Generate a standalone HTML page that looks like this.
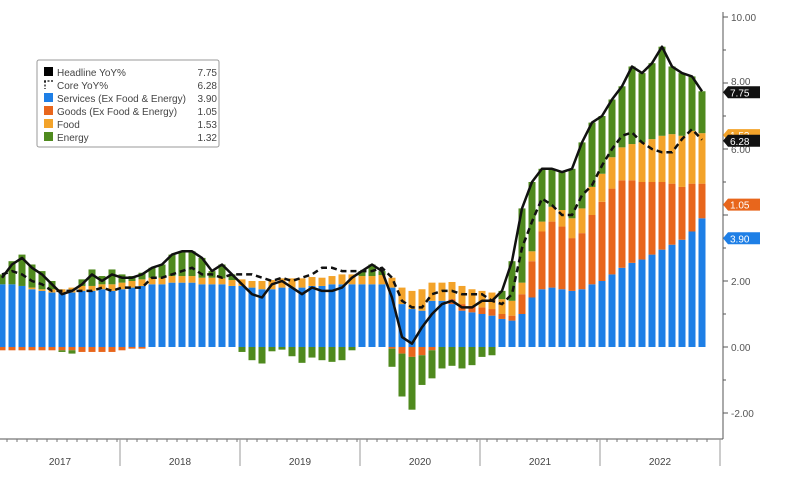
<!DOCTYPE html>
<html><head><meta charset="utf-8"><style>
body{margin:0;background:#fff;}
svg{display:block;font-family:"Liberation Sans",sans-serif;}
</style></head><body>
<svg id="chart" width="789" height="488" viewBox="0 0 789 488" xmlns="http://www.w3.org/2000/svg">
<g id="bars"></g>
<g id="lines"></g>
<g id="axes"></g>
<g id="legend">
<rect x="37" y="60" width="182" height="87" fill="#fff" stroke="#999" stroke-width="1" rx="2"/>
</g>
</svg>
<script>
const months = 71; // Dec 2016 .. Oct 2022
const years = ["2017","2018","2019","2020","2021","2022"];
const headline = [2.1,
2.5,2.7,2.4,2.2,1.9,1.6,1.7,1.9,2.2,2.0,2.2,2.1,
2.1,2.2,2.4,2.5,2.8,2.9,2.9,2.7,2.3,2.5,2.2,1.9,
1.6,1.5,1.9,2.0,1.8,1.6,1.8,1.7,1.7,1.8,2.1,2.3,
2.5,2.3,1.5,0.3,0.1,0.6,1.0,1.3,1.4,1.2,1.2,1.4,
1.4,1.7,2.6,4.2,5.0,5.4,5.4,5.3,5.4,6.2,6.8,7.0,
7.5,7.9,8.5,8.3,8.6,9.1,8.5,8.3,8.2,7.75];
const core = [2.2,
2.3,2.2,2.0,1.9,1.7,1.7,1.7,1.7,1.7,1.8,1.7,1.8,
1.8,1.8,2.1,2.1,2.2,2.3,2.4,2.2,2.2,2.1,2.2,2.2,
2.2,2.1,2.0,2.1,2.0,2.1,2.2,2.4,2.4,2.3,2.3,2.3,
2.3,2.4,2.1,1.4,1.2,1.2,1.6,1.7,1.7,1.6,1.6,1.6,
1.4,1.3,1.6,3.0,3.8,4.5,4.3,4.0,4.0,4.6,4.9,5.5,
6.0,6.4,6.5,6.2,6.0,5.9,5.9,6.3,6.6,6.28];
const services = [1.9,
1.9,1.85,1.75,1.7,1.65,1.65,1.65,1.7,1.7,1.75,1.7,1.75,
1.8,1.85,1.9,1.9,1.95,1.95,1.95,1.9,1.9,1.9,1.85,1.85,
1.8,1.75,1.75,1.8,1.8,1.8,1.85,1.85,1.9,1.9,1.9,1.9,
1.9,1.9,1.8,1.3,1.15,1.1,1.4,1.4,1.3,1.1,1.05,1.0,
0.95,0.85,0.8,1.0,1.5,1.75,1.8,1.75,1.7,1.75,1.9,2.0,
2.2,2.4,2.55,2.65,2.8,2.95,3.1,3.25,3.5,3.9];
const goods = [-0.1,
-0.1,-0.1,-0.1,-0.1,-0.1,-0.1,-0.1,-0.15,-0.15,-0.15,-0.15,-0.1,
-0.05,-0.05,0,0,0,0,0,0,0,0,0,0,
0,0,0,0,0,0,0,0,0,0,0,0,
0,0,-0.05,-0.2,-0.3,-0.25,-0.1,0.0,0.15,0.2,0.2,0.2,
0.2,0.15,0.15,0.6,1.1,1.75,2.0,1.9,1.6,1.7,2.1,2.4,
2.6,2.65,2.5,2.35,2.2,2.05,1.85,1.6,1.45,1.05];
const food = [0.0,
0.0,0.0,0.05,0.05,0.1,0.1,0.15,0.15,0.15,0.15,0.2,0.2,
0.2,0.2,0.2,0.2,0.2,0.2,0.2,0.2,0.2,0.18,0.18,0.2,
0.2,0.25,0.28,0.28,0.28,0.28,0.27,0.25,0.25,0.3,0.3,0.25,
0.25,0.28,0.3,0.5,0.55,0.65,0.55,0.55,0.52,0.55,0.5,0.5,
0.5,0.45,0.45,0.35,0.3,0.3,0.45,0.5,0.6,0.75,0.85,0.85,
0.95,1.0,1.1,1.2,1.3,1.4,1.5,1.55,1.6,1.53];
const energy = [0.3,
0.7,0.95,0.7,0.55,0.25,-0.05,-0.1,0.2,0.5,0.25,0.45,0.25,
0.15,0.2,0.3,0.4,0.65,0.75,0.75,0.6,0.2,0.42,0.17,-0.15,
-0.4,-0.5,-0.13,-0.08,-0.28,-0.48,-0.32,-0.4,-0.45,-0.4,-0.1,0.15,
0.35,0.12,-0.55,-1.3,-1.6,-0.9,-0.85,-0.65,-0.57,-0.65,-0.55,-0.3,
-0.25,0.25,1.2,2.25,2.1,1.6,1.15,1.15,1.5,2.0,1.95,1.75,
1.75,1.85,2.35,2.1,2.3,2.7,2.05,1.9,1.65,1.27];
const yTicks = [-2,0,2,6,10];

const NS="http://www.w3.org/2000/svg";
const zeroY=347, unit=33;
const yS=v=>zeroY-unit*v;
const xC=i=>10*i+2;
function el(tag,attrs,parent){const e=document.createElementNS(NS,tag);for(const k in attrs)e.setAttribute(k,attrs[k]);parent.appendChild(e);return e;}
const barsG=document.getElementById('bars');
const series=[["services",services,"#1e7fe6"],["goods",goods,"#e8661c"],["food",food,"#f3a32a"],["energy",energy,"#4f8a1e"]];
for(let i=0;i<months;i++){
  let pos=0,neg=0;
  for(const [nm,arr,col] of series){
    const v=arr[i]; if(!v) continue;
    let y0,y1;
    if(v>0){y0=pos;y1=pos+v;pos=y1;}else{y0=neg;y1=neg+v;neg=y1;}
    const top=yS(Math.max(y0,y1)),bot=yS(Math.min(y0,y1));
    const r=el('rect',{x:xC(i)-3.5,y:top,width:7,height:bot-top,fill:col},barsG);
    
    
  }
}
const linesG=document.getElementById('lines');
function path(arr){return arr.map((v,i)=>(i?'L':'M')+xC(i)+' '+yS(v).toFixed(1)).join(' ');}
const cl=el('path',{d:path(core),fill:'none',stroke:'#111','stroke-width':2.5,'stroke-dasharray':'6 4'},linesG);


const hl=el('path',{d:path(headline),fill:'none',stroke:'#111','stroke-width':2.5,'stroke-linejoin':'round'},linesG);



const ax=document.getElementById('axes');
el('line',{x1:723,y1:12,x2:723,y2:439,stroke:'#555','stroke-width':1},ax);
el('line',{x1:0,y1:439,x2:723,y2:439,stroke:'#555','stroke-width':1},ax);
for(let v=-2;v<=10;v++){el('line',{x1:723,y1:yS(v),x2:v%2?726:728,y2:yS(v),stroke:'#555'},ax);}
for(const v of yTicks){
  const t=el('text',{x:731,y:yS(v)+4,'font-size':10,fill:'#555'},ax);
  t.textContent=v.toFixed(2);
  
  
}
const t8=el('text',{x:731,y:yS(8)+2,'font-size':10,fill:'#555'},ax);t8.textContent='8.00';
for(let m=0;m<months;m++){el('line',{x1:xC(m)+5,y1:439,x2:xC(m)+5,y2:442,stroke:'#777'},ax);}
years.forEach((y,k)=>{
  el('line',{x1:120*(k+1),y1:439,x2:120*(k+1),y2:466,stroke:'#999'},ax);
  const t=el('text',{x:120*k+60,y:465,'font-size':10,fill:'#444','text-anchor':'middle'},ax);
  t.textContent=y;
  
  
});
// value tags
const tags=[[headline[70],'#111','#fff'],[services[70],'#1e7fe6','#fff'],[goods[70]+services[70]>0?goods[70]:0,'#e8661c','#fff']];
function tag(yv,label,bg,fg,name){
  const g=el('g',{},ax);
  
  
  el('path',{d:`M723 ${yv} L728 ${yv-6} L760 ${yv-6} L760 ${yv+6} L728 ${yv+6} Z`,fill:bg},g);
  const t=el('text',{x:730,y:yv+4,'font-size':10,fill:fg},g);t.textContent=label;
}
tag(yS(food[70]+goods[70]+services[70])+2,'1.53','#f3a32a','#fff','food-tag');
tag(yS(headline[70])+1,headline[70].toFixed(2),'#111','#fff','headline-tag');
tag(yS(core[70])+1,core[70].toFixed(2),'#111','#fff','core-tag');
tag(yS(goods[70]+services[70])+21,goods[70].toFixed(2),'#e8661c','#fff','goods-tag');
tag(yS(services[70])+20,services[70].toFixed(2),'#1e7fe6','#fff','services-tag');

const lg=document.getElementById('legend');
const entries=[["Headline YoY%","7.75","#000"],["Core YoY%","6.28",null],["Services (Ex Food & Energy)","3.90","#1e7fe6"],["Goods (Ex Food & Energy)","1.05","#e8661c"],["Food","1.53","#f3a32a"],["Energy","1.32","#4f8a1e"]];
entries.forEach((e,k)=>{
  const y=72+k*13;
  const g=el('g',{},lg);
  
  
  if(e[2]) el('rect',{x:44,y:y-5,width:9,height:9,fill:e[2]},g);
  else el('path',{d:`M44 ${y-4} L53 ${y-4} M45 ${y-4} L45 ${y+4}`,stroke:'#000','stroke-width':1.2,fill:'none','stroke-dasharray':'2 1.5'},g);
  const t=el('text',{x:57,y:y+4,'font-size':10,fill:'#444'},g);t.textContent=e[0];
  const v=el('text',{x:217,y:y+4,'font-size':10,fill:'#444','text-anchor':'end'},g);v.textContent=e[1];
});
</script>
</body></html>
